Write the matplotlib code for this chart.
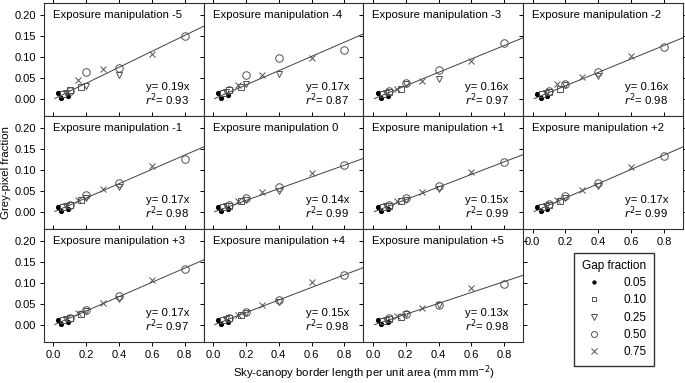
import matplotlib.pyplot as plt
import numpy as np

plt.rcParams['font.family'] = ['Liberation Sans', 'DejaVu Sans']

# panel titles and fitted slopes / r2
panels = ['-5', '-4', '-3', '-2', '-1', '0', '+1', '+2', '+3', '+4', '+5']
slopes = [0.19, 0.17, 0.16, 0.16, 0.17, 0.14, 0.15, 0.17, 0.17, 0.15, 0.13]
r2 = [0.93, 0.87, 0.97, 0.98, 0.98, 0.99, 0.99, 0.99, 0.97, 0.98, 0.98]

# border length per gap fraction group (shared by all panels)
x_005 = [0.03, 0.05, 0.09]
x_010 = [0.06, 0.10, 0.17]
x_025 = [0.08, 0.20, 0.40]
x_050 = [0.10, 0.20, 0.40, 0.80]
x_075 = [0.15, 0.30, 0.60]

# grey-pixel fraction per panel
y_005 = [[0.014, 0.002, 0.007], [0.016, 0.002, 0.010], [0.014, 0.003, 0.008],
         [0.013, 0.003, 0.008], [0.013, 0.003, 0.008], [0.012, 0.003, 0.008],
         [0.013, 0.003, 0.008], [0.013, 0.003, 0.008], [0.013, 0.003, 0.008],
         [0.012, 0.003, 0.008], [0.012, 0.003, 0.008]]
y_010 = [[0.012, 0.021, 0.029], [0.014, 0.022, 0.030], [0.012, 0.018, 0.024],
         [0.012, 0.018, 0.024], [0.012, 0.018, 0.028], [0.012, 0.016, 0.026],
         [0.012, 0.016, 0.026], [0.012, 0.018, 0.026], [0.012, 0.018, 0.026],
         [0.012, 0.016, 0.024], [0.011, 0.014, 0.020]]
y_025 = [[0.015, 0.032, 0.058], [0.018, 0.036, 0.060], [0.014, 0.036, 0.048],
         [0.015, 0.034, 0.056], [0.014, 0.033, 0.060], [0.014, 0.030, 0.050],
         [0.014, 0.030, 0.056], [0.014, 0.034, 0.062], [0.014, 0.034, 0.062],
         [0.014, 0.030, 0.056], [0.012, 0.026, 0.048]]
y_050 = [[0.020, 0.065, 0.075, 0.151], [0.022, 0.058, 0.098, 0.117],
         [0.020, 0.038, 0.069, 0.135], [0.020, 0.036, 0.066, 0.125],
         [0.018, 0.040, 0.070, 0.127], [0.018, 0.034, 0.060, 0.113],
         [0.018, 0.034, 0.062, 0.119], [0.020, 0.038, 0.070, 0.133],
         [0.018, 0.037, 0.070, 0.133], [0.017, 0.032, 0.060, 0.119],
         [0.016, 0.026, 0.049, 0.099]]
y_075 = [[0.046, 0.071, 0.107], [0.034, 0.058, 0.098], [0.024, 0.044, 0.091],
         [0.036, 0.053, 0.103], [0.030, 0.056, 0.110], [0.026, 0.048, 0.094],
         [0.026, 0.048, 0.096], [0.028, 0.054, 0.108], [0.028, 0.054, 0.108],
         [0.024, 0.048, 0.104], [0.022, 0.040, 0.089]]

groups = [('0.05', x_005, y_005, 'o', 3.0, 'black', 'black'),
          ('0.10', x_010, y_010, 's', 4.2, 'none', '#505050'),
          ('0.25', x_025, y_025, 'v', 4.8, 'none', '#505050'),
          ('0.50', x_050, y_050, 'o', 5.4, 'none', '#505050'),
          ('0.75', x_075, y_075, 'x', 4.6, 'none', '#505050')]

fig, axes = plt.subplots(3, 4, figsize=(6.85, 3.83), dpi=100,
                         sharex=True, sharey=True)
fig.subplots_adjust(left=0.064, right=0.997, top=0.992, bottom=0.107,
                    wspace=0, hspace=0)

handles = []
for i, ax in enumerate(axes.flat):
    if i >= len(panels):
        ax.set_axis_off()
        continue
    xl = np.array([0.01, 0.95])
    ax.plot(xl, slopes[i] * xl, color='#404040', lw=0.7, zorder=1)
    for name, xs, ys, m, ms, fc, ec in groups:
        h, = ax.plot(xs, ys[i], ls='none', marker=m, ms=ms, mfc=fc,
                     mec=ec, mew=0.7, color=ec, label=name, zorder=2)
        if i == 0:
            handles.append(h)
    ax.text(0.056, 0.94, 'Exposure manipulation ' + panels[i],
            transform=ax.transAxes, fontsize=8.2, va='top', ha='left')
    ax.text(0.91, 0.26, 'y= %.2fx' % slopes[i], transform=ax.transAxes,
            fontsize=8.2, va='center', ha='right')
    ax.text(0.91, 0.145, '$r^2$= %.2f' % r2[i], transform=ax.transAxes,
            fontsize=8.2, va='center', ha='right')
    ax.set_xlim(-0.057, 0.915)
    ax.set_ylim(-0.04, 0.229)
    ax.set_xticks([0.0, 0.2, 0.4, 0.6, 0.8])
    ax.set_yticks([0.0, 0.05, 0.10, 0.15, 0.20])
    ax.tick_params(direction='out', length=3, width=0.7, labelsize=8,
                   top=True, right=True, pad=2.5)
    for s in ax.spines.values():
        s.set_linewidth(0.8)
        s.set_color('#303030')

ax8 = axes[1, 3]
ax8.xaxis.set_tick_params(labelbottom=True)
axes[0, 0].yaxis.set_major_formatter(plt.FormatStrFormatter('%.2f'))
axes[2, 0].xaxis.set_major_formatter(plt.FormatStrFormatter('%.1f'))

fig.legend(handles=handles, title='Gap fraction', loc='upper center',
           bbox_to_anchor=(0.896, 0.34), frameon=True, fancybox=False,
           edgecolor='black', fontsize=8.5, title_fontsize=8.5,
           handletextpad=1.4, labelspacing=0.45, borderpad=0.6,
           borderaxespad=0, markerscale=0.8, handlelength=2.2)

fig.text(0.002, 0.55, 'Grey-pixel fraction', rotation=90, va='center',
         ha='left', fontsize=8.2)
fig.text(0.531, 0.003, 'Sky-canopy border length per unit area (mm mm$^{-2}$)',
         ha='center', va='bottom', fontsize=8.2)

fig.savefig('out.png', dpi=100)
